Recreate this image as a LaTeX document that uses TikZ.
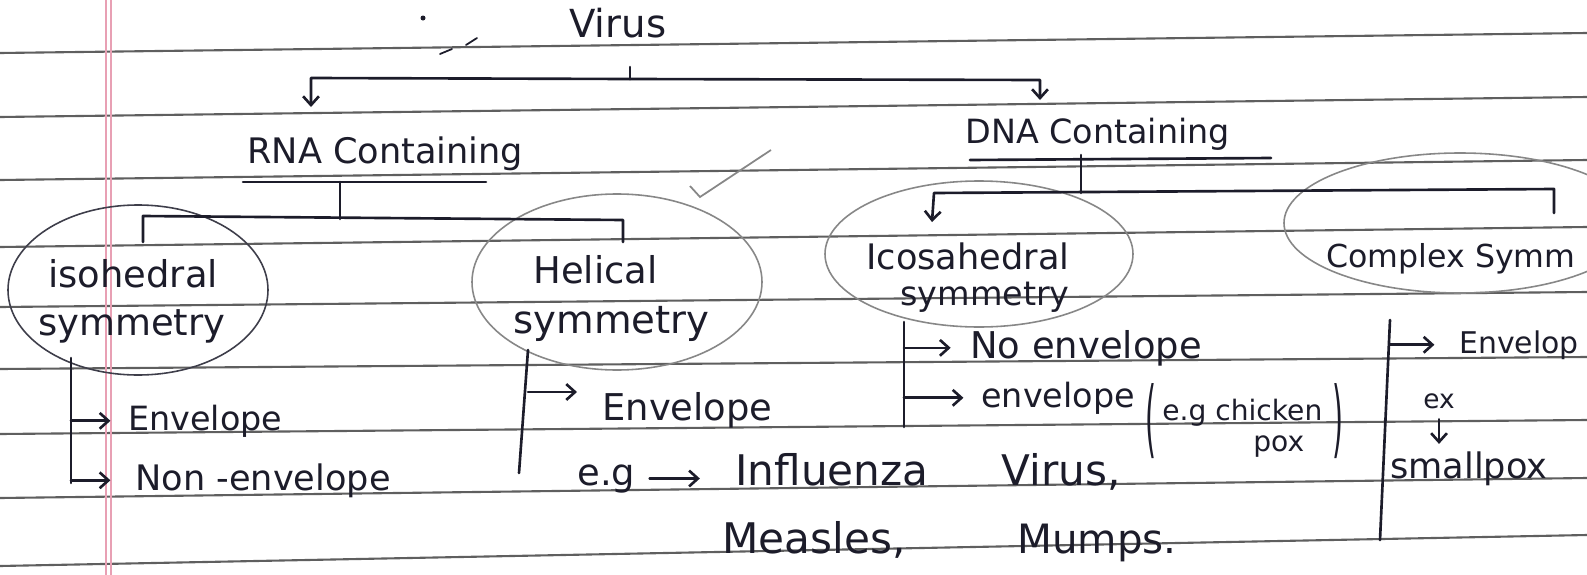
\documentclass[tikz,border=0pt]{standalone}
\usepackage{fontspec}
\usepackage{graphicx}
\setmainfont{DejaVu Sans}
\usetikzlibrary{arrows.meta}
\definecolor{ink}{RGB}{28,28,42}
\definecolor{pencil}{RGB}{135,135,135}
\definecolor{ruling}{RGB}{95,95,95}
\definecolor{margin}{RGB}{232,160,180}
\newcommand{\handsize}[1]{\fontsize{#1}{#1}\selectfont}

\begin{document}
\begin{tikzpicture}[x=0.02cm, y=-0.02cm,
  txt/.style={text=ink, inner sep=0pt, anchor=base west, font=\handsize{20}},
  paren/.style={text=ink, inner sep=0pt, font=\handsize{16}},
  link/.style={draw=ink, line width=1.5pt, line cap=round, line join=round},
  arr/.style={link, -{Straight Barb[length=5pt,width=9pt]}},
  ring/.style={draw=pencil, line width=0.9pt}]
  \useasboundingbox (0,0) rectangle (1587,575);
  \clip (0,0) rectangle (1587,575);
  % ruled page
  \fill[white] (0,0) rectangle (1587,575);
  \foreach \l/\r in {53/33,117/97,180/160,247/227,307/292,369/357,434/420,498/478,566/535}
    \draw[ruling, line width=1.2pt] (0,\l) -- (1587,\r);
  \draw[margin, line width=0.8pt] (106,0) -- (106,575) (111,0) -- (111,575);

  % circled groups
  \draw[ring, draw=ink!85] (138,290) ellipse [x radius=130, y radius=85];
  \draw[ring] (617,282) ellipse [x radius=145, y radius=88];
  \draw[ring] (979,254) ellipse [x radius=154, y radius=73];
  \draw[ring] (1460,223) ellipse [x radius=176, y radius=70];

  % headings
  \node[txt, font=\handsize{22}] (virus) at (569,37) {Virus};
  \node[txt] (rna) at (247,163) {RNA Containing};
  \node[txt, font=\handsize{19}] (dna) at (965,143) {DNA Containing};

  % symmetry types
  \node[txt, font=\handsize{21}] (iso1) at (48,287) {isohedral};
  \node[txt, font=\handsize{21}] (iso2) at (38,335) {symmetry};
  \node[txt, font=\handsize{21}] (hel1) at (533,283) {Helical};
  \node[txt, font=\handsize{22}] (hel2) at (513,333) {symmetry};
  \node[txt, font=\handsize{20}] (ico1) at (866,269) {Icosahedral};
  \node[txt, font=\handsize{19}] (ico2) at (900,305) {symmetry};
  \node[txt, font=\handsize{18}] (cpx) at (1326,267) {Complex Symm};

  % leaves
  \node[txt, font=\handsize{19}] (env1) at (128,430) {Envelope};
  \node[txt] (non) at (135,490) {Non -envelope};
  \node[txt, font=\handsize{21}] (env2) at (602,420) {Envelope};
  \node[txt, font=\handsize{21}] (eg) at (577,485) {e.g};
  \node[txt, font=\handsize{24}] (flu) at (735,485) {Influenza};
  \node[txt, font=\handsize{24}] (vir) at (1001,485) {Virus,};
  \node[txt, font=\handsize{24}] (meas) at (722,553) {Measles,};
  \node[txt, font=\handsize{23}] (mumps) at (1017,553) {Mumps.};
  \node[txt, font=\handsize{21}] (noenv) at (970,358) {No envelope};
  \node[txt, font=\handsize{19}] (env3) at (981,407) {envelope};
  \node[paren] (lpar) at (1151,421) {\scalebox{1}[3]{(}};
  \node[txt, font=\handsize{16}] (chick) at (1162,420) {e.g chicken};
  \node[txt, font=\handsize{16}] (pox) at (1253,451) {pox};
  \node[paren] (rpar) at (1338,421) {\scalebox{1}[3]{)}};
  \node[txt, font=\handsize{17}] (envk) at (1459,353) {Envelop};
  \node[txt, font=\handsize{15}] (ex) at (1423,408) {ex};
  \node[txt] (small) at (1390,478) {smallpox};

  % Virus split
  \coordinate (v0) at (630,67);
  \coordinate (v1) at (630,79);
  \coordinate (vl) at (311,78);
  \coordinate (vr) at (1040,80);
  \coordinate (vla) at (311,107);
  \coordinate (vra) at (1040,100);
  \draw[link] (v0) -- (v1);
  \draw[arr] (v1) -- (vl) -- (vla);
  \draw[arr] (v1) -- (vr) -- (vra);

  % RNA split
  \coordinate (r0) at (243,182);
  \coordinate (r1) at (486,182);
  \coordinate (rs) at (340,182);
  \coordinate (rb) at (340,219);
  \coordinate (rl) at (143,216);
  \coordinate (rr) at (623,220);
  \coordinate (rld) at (143,242);
  \coordinate (rrd) at (623,242);
  \draw[link] (r0) -- (r1);
  \draw[link] (rs) -- (rb);
  \draw[link] (rld) -- (rl) -- (rr) -- (rrd);

  % DNA split
  \coordinate (d0) at (970,160);
  \coordinate (d1) at (1271,158);
  \coordinate (ds) at (1081,155);
  \coordinate (db) at (1081,193);
  \coordinate (dl) at (934,193);
  \coordinate (dr) at (1554,189);
  \coordinate (dla) at (932,222);
  \coordinate (drd) at (1554,213);
  \draw[link] (d0) -- (d1);
  \draw[link] (ds) -- (db);
  \draw[arr] (drd) -- (dr) -- (dl) -- (dla);

  % isohedral
  \coordinate (i0) at (71,358);
  \coordinate (i1) at (71,483);
  \draw[link] (i0) -- (i1);
  \draw[arr, shorten >=10pt] (i0 |- env1.west) -- (env1.west);
  \draw[arr, shorten >=14pt] (i0 |- non.west) -- (non.west);

  % helical
  \coordinate (h0) at (528,350);
  \coordinate (h1) at (519,473);
  \coordinate (h2) at (577,392);
  \draw[link] (h0) -- (h1);
  \draw[arr] (h0 |- h2) -- (h2);
  \draw[arr, shorten <=8pt, shorten >=20pt] (eg.east) -- (eg.east -| flu.west);

  % icosahedral
  \coordinate (c0) at (904,322);
  \coordinate (c1) at (904,427);
  \draw[link] (c0) -- (c1);
  \draw[arr, shorten >=11pt] (c0 |- noenv.west) -- (noenv.west);
  \draw[arr, shorten >=10pt] (c0 |- env3.west) -- (env3.west);

  % complex
  \coordinate (k0) at (1390,320);
  \coordinate (k1) at (1380,540);
  \draw[link] (k0) -- (k1);
  \draw[arr, shorten >=14pt] (k0 |- envk.west) -- (envk.west);
  \draw[arr, shorten <=6pt, shorten >=4pt] (ex.south) -- (ex.south |- small.north);

  % marks on the page
  \draw[pencil, line width=1pt] (690,186) -- (700,197) -- (771,150);
  \fill[ink] (423,18) circle (2.5);
  \draw[link, line width=1pt] (440,54) -- (452,49) (466,45) -- (477,38);
\end{tikzpicture}
\end{document}
